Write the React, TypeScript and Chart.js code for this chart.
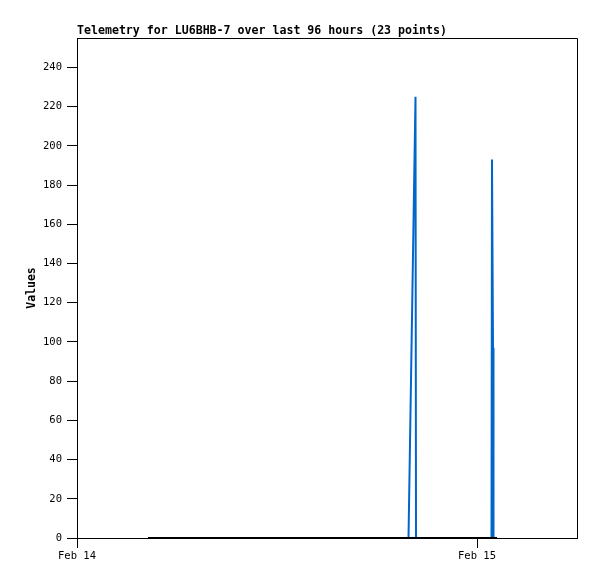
import React, { useEffect, useRef } from "react";
import { Chart, registerables } from "chart.js";

Chart.register(...registerables);

const TITLE = "Telemetry for LU6BHB-7 over last 96 hours (23 points)";
const Y_LABEL = "Values";

// hours since Feb 14 00:00
const xTickHours = [0, 24];
const xTickLabels = ["Feb 14", "Feb 15"];

const blackHours = [4.26, 8.5, 12.7, 16.9, 19.89, 20.34, 24.87, 25.2];
const blackValues = [0, 0, 0, 0, 0, 0, 0, 0];

const blueHours = [19.89, 20.31, 20.34, 24.87, 24.9, 24.96, 24.99];
const blueValues = [0, 225, 0, 0, 193, 97, 0];

const FONT = '"DejaVu Sans Mono", "Liberation Mono", monospace';

export default function App() {
  const ref = useRef<HTMLCanvasElement | null>(null);

  useEffect(() => {
    if (!ref.current) return;
    const framePlugin = {
      id: "frame",
      afterDraw(chart: any) {
        const { ctx, chartArea } = chart;
        ctx.save();
        ctx.strokeStyle = "#000";
        ctx.lineWidth = 1;
        ctx.beginPath();
        ctx.moveTo(chartArea.left, chartArea.top + 0.5);
        ctx.lineTo(chartArea.right + 0.5, chartArea.top + 0.5);
        ctx.lineTo(chartArea.right + 0.5, chartArea.bottom);
        ctx.stroke();
        ctx.fillStyle = "#000";
        ctx.font = `bold 11.6px ${FONT}`;
        ctx.textAlign = "left";
        ctx.textBaseline = "alphabetic";
        ctx.fillText(TITLE, chartArea.left, 34);
        ctx.restore();
      },
    };

    const chart = new Chart(ref.current, {
      type: "line",
      data: {
        datasets: [
          {
            label: "zero",
            data: blackHours.map((h, i) => ({ x: h, y: blackValues[i] })),
            borderColor: "#000000",
            borderWidth: 2,
            pointRadius: 0,
            tension: 0,
            order: 0,
          },
          {
            label: "value",
            data: blueHours.map((h, i) => ({ x: h, y: blueValues[i] })),
            borderColor: "#0066cc",
            borderWidth: 2,
            pointRadius: 0,
            tension: 0,
            order: 1,
          },
        ],
      },
      options: {
        animation: false,
        responsive: false,
        devicePixelRatio: 1,
        layout: { padding: { top: 38, right: 20, left: 0, bottom: 0 } },
        plugins: {
          legend: { display: false },
          tooltip: { enabled: false },
          title: { display: false },
        },
        scales: {
          x: {
            type: "linear",
            min: 0,
            max: 30,
            afterBuildTicks: (scale: any) => {
              scale.ticks = xTickHours.map((v) => ({ value: v }));
            },
            afterFit: (scale: any) => {
              scale.height = 41;
            },
            ticks: {
              color: "#000",
              font: { family: FONT, size: 10.5 },
              padding: 2,
              maxRotation: 0,
              callback: (v: any) => {
                const i = xTickHours.indexOf(Number(v));
                return i >= 0 ? xTickLabels[i] : "";
              },
            },
            grid: {
              drawOnChartArea: false,
              drawTicks: true,
              tickLength: 10,
              color: "#000",
            },
            border: { display: true, color: "#000", width: 1 },
          },
          y: {
            type: "linear",
            min: 0,
            max: 255,
            afterFit: (scale: any) => {
              scale.width = 77;
            },
            ticks: {
              stepSize: 20,
              includeBounds: false,
              color: "#000",
              font: { family: FONT, size: 10.5 },
              padding: 5,
            },
            grid: {
              drawOnChartArea: false,
              drawTicks: true,
              tickLength: 10,
              color: "#000",
            },
            border: { display: true, color: "#000", width: 1 },
            title: {
              display: true,
              text: Y_LABEL,
              color: "#000",
              font: { family: FONT, size: 11.5, weight: "bold" },
              padding: { top: 25, bottom: 0 },
            },
          },
        },
      },
      plugins: [framePlugin],
    });
    return () => chart.destroy();
  }, []);

  return (
    <div style={{ position: "absolute", left: 0, top: 0, width: 597, height: 579, background: "#fff" }}>
      <canvas ref={ref} width={597} height={579} style={{ display: "block" }} />
    </div>
  );
}
